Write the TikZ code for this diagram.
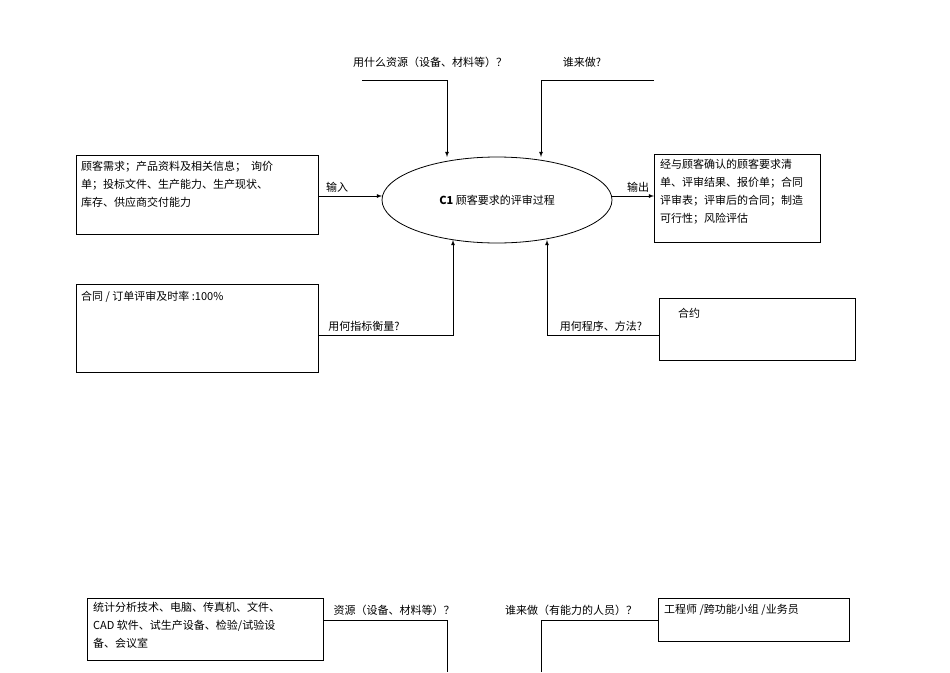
\documentclass[tikz,border=0pt]{standalone}
\usepackage{fontspec}
\setmainfont{Noto Sans CJK SC}
\usetikzlibrary{shapes.geometric}
\begin{document}
\begin{tikzpicture}[x=1pt,y=-1pt,font=\fontsize{11}{18}\selectfont,
  box/.style={draw,thick},
  lbl/.style={inner sep=1pt},
  ln/.style={draw,thick},
  arr/.style={draw,thick,-latex}]
\useasboundingbox (0,0) rectangle (950,672);
\node[lbl] (t1) at (430,62) {用什么资源（设备、材料等）？};
\node[lbl] (t2) at (582,62) {谁来做?};
\coordinate (a1) at (362,80); \coordinate (a2) at (447,80);
\coordinate (b1) at (654,80); \coordinate (b2) at (541,80);
\node[draw,thick,ellipse,minimum width=230pt,minimum height=86pt] (e) at (497,200) {\textbf{C1} 顾客要求的评审过程};
\draw[arr] (a1) -- (a2) -- (447,157);
\draw[arr] (b1) -- (b2) -- (541,157);
\draw[box] (76,155) rectangle (318,234);
\node[lbl,anchor=north west,align=left] (in) at (80,160) {顾客需求；产品资料及相关信息；\ \ 询价\\单；投标文件、生产能力、生产现状、\\库存、供应商交付能力};
\draw[arr] (318,196) -- (382,196);
\node[lbl] (l1) at (337,187) {输入};
\draw[box] (654,154) rectangle (820,242);
\node[lbl,anchor=north west,align=left] (out) at (659,158) {经与顾客确认的顾客要求清\\单、评审结果、报价单；合同\\评审表；评审后的合同；制造\\可行性；风险评估};
\draw[arr] (612,196) -- (654,196);
\node[lbl] (l2) at (638,187) {输出};
\draw[box] (76,284) rectangle (318,372);
\node[lbl,anchor=west] (m) at (80,297) {合同 / 订单评审及时率 :100\%};
\draw[arr] (318,335) -- (453,335) -- (453,240);
\node[lbl] (l3) at (364,326) {用何指标衡量?};
\draw[box] (659,298) rectangle (855,360);
\node[lbl,anchor=west] (h) at (677,313) {合约};
\draw[arr] (659,335) -- (547,335) -- (547,240);
\node[lbl] (l4) at (601,326) {用何程序、方法?};
\draw[box] (87,598) rectangle (323,660);
\node[lbl,anchor=north west,align=left] (r) at (92,601) {统计分析技术、电脑、传真机、文件、\\CAD 软件、试生产设备、检验/试验设\\备、会议室};
\node[lbl] (l5) at (394,610) {资源（设备、材料等）？};
\draw[ln] (323,620) -- (447,620) -- (447,672);
\node[lbl] (l6) at (571,610) {谁来做（有能力的人员）？};
\draw[box] (658,598) rectangle (849,641);
\node[lbl,anchor=west] (w) at (663,610) {工程师 /跨功能小组 /业务员};
\draw[ln] (658,620) -- (541,620) -- (541,672);
\end{tikzpicture}
\end{document}
